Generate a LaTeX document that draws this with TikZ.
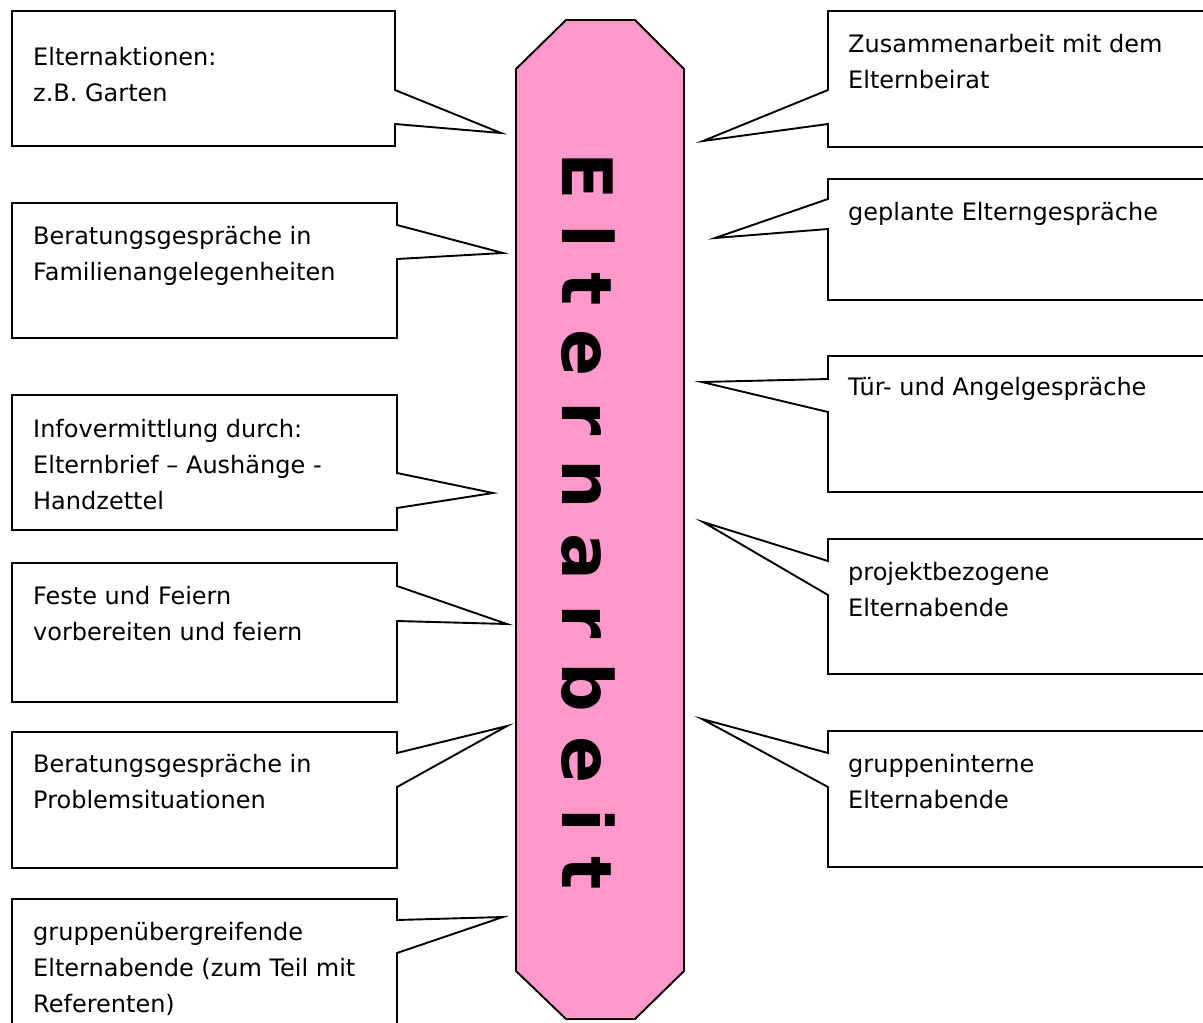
\documentclass[tikz,border=0pt]{standalone}
\usepackage{fontspec}
\setmainfont{DejaVu Sans}
\definecolor{pinkfill}{RGB}{255,153,204}
\begin{document}
\begin{tikzpicture}[x=1pt,y=-1pt,
  co/.style={draw=black, line width=1.9pt, fill=white, line join=miter},
  txt/.style={anchor=base west, inner sep=0pt, font=\fontsize{24}{36}\selectfont},
  col/.style={draw=black, line width=1.9pt, fill=pinkfill},
  title/.style={rotate=-90, inner sep=0pt, font=\fontsize{69.5}{70}\selectfont\bfseries}]
\useasboundingbox (0,0) rectangle (1203,1023);
\clip (0,0) rectangle (1203,1023);
\fill[white] (0,0) rectangle (1203,1023);

% central column
\draw[col] (566,20) -- (635,20) -- (684,69) -- (684,971) -- (635,1019) -- (566,1019) -- (516,971) -- (516,69) -- cycle;
\node[title] (title) at (588,521) {E l t e r n a r b e i t};

% left callouts
\draw[co] (12,11) -- (395,11) -- (395,90) -- (501,133) -- (395,124) -- (395,146) -- (12,146) -- cycle;
\node[txt] (l1) at (33,65) {\begin{tabular}[t]{@{}l@{}}Elternaktionen:\\z.B. Garten\end{tabular}};

\draw[co] (12,203) -- (397,203) -- (397,225) -- (503,253) -- (397,259) -- (397,338) -- (12,338) -- cycle;
\node[txt] (l2) at (33,244) {\begin{tabular}[t]{@{}l@{}}Beratungsgespräche in\\Familienangelegenheiten\end{tabular}};

\draw[co] (12,395) -- (397,395) -- (397,473) -- (493,493) -- (397,508) -- (397,530) -- (12,530) -- cycle;
\node[txt] (l3) at (33,437) {\begin{tabular}[t]{@{}l@{}}Infovermittlung durch:\\Elternbrief – Aushänge -\\Handzettel\end{tabular}};

\draw[co] (12,563) -- (397,563) -- (397,586) -- (507,624) -- (397,621) -- (397,702) -- (12,702) -- cycle;
\node[txt] (l4) at (33,604) {\begin{tabular}[t]{@{}l@{}}Feste und Feiern\\vorbereiten und feiern\end{tabular}};

\draw[co] (12,732) -- (397,732) -- (397,753) -- (507,726) -- (397,787) -- (397,868) -- (12,868) -- cycle;
\node[txt] (l5) at (33,772) {\begin{tabular}[t]{@{}l@{}}Beratungsgespräche in\\Problemsituationen\end{tabular}};

\draw[co] (12,899) -- (397,899) -- (397,920) -- (503,917) -- (397,953) -- (397,1040) -- (12,1040) -- cycle;
\node[txt] (l6) at (33,940) {\begin{tabular}[t]{@{}l@{}}gruppenübergreifende\\Elternabende (zum Teil mit\\Referenten)\end{tabular}};

% right callouts
\draw[co] (1215,11) -- (828,11) -- (828,90) -- (703,141) -- (828,124) -- (828,147) -- (1215,147) -- cycle;
\node[txt] (r1) at (848,52) {\begin{tabular}[t]{@{}l@{}}Zusammenarbeit mit dem\\Elternbeirat\end{tabular}};

\draw[co] (1215,179) -- (828,179) -- (828,199) -- (715,238) -- (828,229) -- (828,300) -- (1215,300) -- cycle;
\node[txt] (r2) at (848,220) {geplante Elterngespräche};

\draw[co] (1215,356) -- (828,356) -- (828,379) -- (702,382) -- (828,412) -- (828,492) -- (1215,492) -- cycle;
\node[txt] (r3) at (848,395) {Tür- und Angelgespräche};

\draw[co] (1215,539) -- (828,539) -- (828,561) -- (703,522) -- (828,595) -- (828,674) -- (1215,674) -- cycle;
\node[txt] (r4) at (848,580) {\begin{tabular}[t]{@{}l@{}}projektbezogene\\Elternabende\end{tabular}};

\draw[co] (1215,731) -- (828,731) -- (828,753) -- (702,719) -- (828,787) -- (828,867) -- (1215,867) -- cycle;
\node[txt] (r5) at (848,772) {\begin{tabular}[t]{@{}l@{}}gruppeninterne\\Elternabende\end{tabular}};
\end{tikzpicture}
\end{document}
